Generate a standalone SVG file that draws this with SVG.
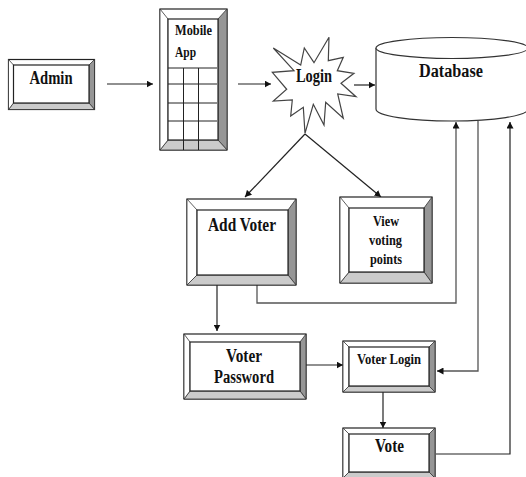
<svg xmlns="http://www.w3.org/2000/svg" width="526" height="477" viewBox="0 0 526 477">
<style>
text{font-family:"Liberation Serif","Times New Roman",serif;font-weight:bold;fill:#111;}
.f16{font-size:18px}.f15{font-size:15px}.f14{font-size:14px}
.o{fill:#fff;stroke:#222;stroke-width:1.2}
.b{stroke:#333;stroke-width:.8}
.r{fill:#969696}.l{fill:#cbcbcb}.w{fill:#fff}
.i{fill:#fff;stroke:#222;stroke-width:1.2}
.c{fill:none;stroke:#222;stroke-width:1.2}
.g{fill:none;stroke:#555;stroke-width:1.3}
.t{fill:none;stroke:#222;stroke-width:1}
</style>
<defs>
<marker id="a" markerUnits="userSpaceOnUse" markerWidth="7" markerHeight="7" refX="6.500" refY="3.500" orient="auto"><path d="M0 0L6.500 3.500L0 7Z" fill="#111"/></marker>
</defs>
<rect width="526" height="477" fill="#fff"/>
<g id="connectors">
<path class="c" d="M107 84H153" marker-end="url(#a)"/>
<path class="c" d="M238 84H271" marker-end="url(#a)"/>
<path class="c" d="M354 85H375" marker-end="url(#a)"/>
<path class="c" d="M305 134L245 197" marker-end="url(#a)"/>
<path class="c" d="M305 134L381 197" marker-end="url(#a)"/>
<path class="c" d="M217 285V331" marker-end="url(#a)"/>
<path class="g" d="M257 285V303H456V122" marker-end="url(#a)"/>
<path class="g" d="M478 121V371H437" marker-end="url(#a)"/>
<path class="c" d="M306 365H343" marker-end="url(#a)"/>
<path class="c" d="M383 392V428" marker-end="url(#a)"/>
<path class="c" d="M436 454H510V122" marker-end="url(#a)"/>
</g>
<g id="admin">
<rect class="o" x="8.500" y="59.500" width="86" height="50"/>
<path class="r b" d="M94.500 59.500V109.500L89 103V65Z"/>
<path class="l b" d="M8.500 109.500H94.500L89 103H13.500Z"/>
<path class="w b" d="M8.500 59.500L13.500 65V103L8.500 109.500Z"/>
<rect class="i" x="13.500" y="65" width="75.500" height="38"/>
<text class="f16" x="29.500" y="84" textLength="43" lengthAdjust="spacingAndGlyphs">Admin</text>
</g>
<g id="mobile-app">
<rect class="o" x="160" y="9" width="67" height="141"/>
<path class="r b" d="M227 9V150L218 140V19Z"/>
<path class="l b" d="M160 150H227L218 140H168Z"/>
<path class="w b" d="M160 9L168 19V140L160 150Z"/>
<rect class="i" x="168" y="19" width="50" height="121"/>
<path class="t" d="M168 68H217M168 84H217M168 103H217M168 121H217M183.500 68V150M198.500 68V150"/>
<text class="f14" x="175" y="35" textLength="37" lengthAdjust="spacingAndGlyphs">Mobile</text>
<text class="f14" x="175" y="57" textLength="21" lengthAdjust="spacingAndGlyphs">App</text>
</g>
<g id="login">
<path fill="#fff" stroke="#444" stroke-width="1.200" d="M273.300 48L300.700 65L304.300 48L314 62.700L329 37.300L328.300 60.700L343.300 57.300L337.300 70.700L354 73.300L341 83.300L356 96.700L337.700 94L343.300 118.300L325.700 102.300L324 125L313.300 104.300L305 133.300L303.300 107.300L290.700 116L292.300 100L273.300 101L286.700 89.300L272.300 72.300L294 70.700Z"/>
<text class="f16" x="296" y="82" textLength="36" lengthAdjust="spacingAndGlyphs">Login</text>
</g>
<g id="database">
<path fill="#fff" stroke="#333" stroke-width="1.200" d="M376 48V109C376 116 410 121 452 121C494 121 528 116 528 109V48"/>
<ellipse cx="452" cy="48" rx="76" ry="10.500" fill="#fff" stroke="#333" stroke-width="1.200"/>
<text class="f16" x="419" y="77" textLength="64" lengthAdjust="spacingAndGlyphs">Database</text>
</g>
<g id="add-voter">
<rect class="o" x="187" y="199" width="109" height="86"/>
<path class="r b" d="M296 199V285L288 275V210Z"/>
<path class="l b" d="M187 285H296L288 275H197Z"/>
<path class="w b" d="M187 199L197 210V275L187 285Z"/>
<rect class="i" x="197" y="210" width="91" height="65"/>
<text class="f16" x="208" y="231" textLength="68" lengthAdjust="spacingAndGlyphs">Add Voter</text>
</g>
<g id="view-voting-points">
<rect class="o" x="340" y="197" width="92" height="86"/>
<path class="r b" d="M432 197V283L424 272V208Z"/>
<path class="l b" d="M340 283H432L424 272H349Z"/>
<path class="w b" d="M340 197L349 208V272L340 283Z"/>
<rect class="i" x="349" y="208" width="75" height="64"/>
<text class="f15" x="373" y="226" textLength="26" lengthAdjust="spacingAndGlyphs">View</text>
<text class="f15" x="369" y="245" textLength="33" lengthAdjust="spacingAndGlyphs">voting</text>
<text class="f15" x="370" y="264" textLength="32" lengthAdjust="spacingAndGlyphs">points</text>
</g>
<g id="voter-password">
<rect class="o" x="184" y="334" width="122" height="65"/>
<path class="r b" d="M306 334V399L300 391V342Z"/>
<path class="l b" d="M184 399H306L300 391H190Z"/>
<path class="w b" d="M184 334L190 342V391L184 399Z"/>
<rect class="i" x="190" y="342" width="110" height="49"/>
<text class="f16" x="226" y="362" textLength="36" lengthAdjust="spacingAndGlyphs">Voter</text>
<text class="f16" x="214" y="383" textLength="60" lengthAdjust="spacingAndGlyphs">Password</text>
</g>
<g id="voter-login">
<rect class="o" x="343" y="341" width="92" height="51"/>
<path class="r b" d="M435 341V392L429 386V347Z"/>
<path class="l b" d="M343 392H435L429 386H349Z"/>
<path class="w b" d="M343 341L349 347V386L343 392Z"/>
<rect class="i" x="349" y="347" width="80" height="39"/>
<text class="f14" x="357" y="364" textLength="64" lengthAdjust="spacingAndGlyphs">Voter Login</text>
</g>
<g id="vote">
<rect class="o" x="343" y="428" width="92" height="50"/>
<path class="r b" d="M435 428V478L429 472V434Z"/>
<path class="l b" d="M343 478H435L429 472H349Z"/>
<path class="w b" d="M343 428L349 434V472L343 478Z"/>
<rect class="i" x="349" y="434" width="80" height="38"/>
<text class="f16" x="375" y="452" textLength="29" lengthAdjust="spacingAndGlyphs">Vote</text>
</g>
</svg>
